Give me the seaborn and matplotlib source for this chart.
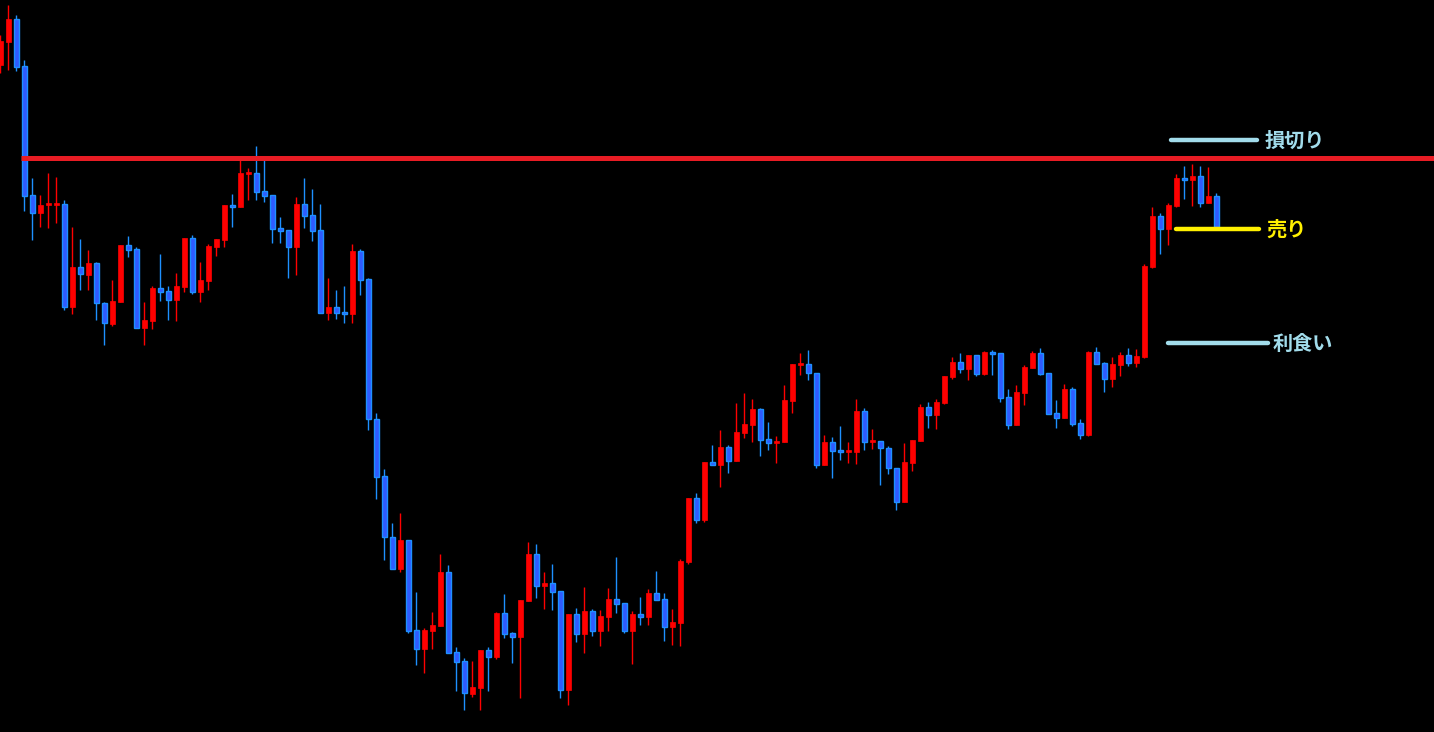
import numpy as np
import pandas as pd
import seaborn as sns
import matplotlib.pyplot as plt

sns.set_theme(style="dark")
plt.rcParams['font.family'] = ['Noto Sans CJK JP', 'DejaVu Sans']

# OHLC values (one candle per bar, oldest first)
opens = [667, 690, 713, 666, 537, 519, 527, 527, 528, 425, 465, 457, 469, 429, 408, 430, 487, 483, 404, 411,
         444, 441, 432, 445, 494, 440, 451, 485, 492, 527, 525, 558, 559, 541, 537, 504, 502, 485, 528, 517,
         502, 419, 425, 420, 418, 481, 453, 313, 256, 195, 163, 192, 102, 83, 101, 106, 160, 80, 71, 38,
         44, 82, 75, 119, 99, 95, 131, 178, 146, 149, 141, 42, 118, 98, 121, 101, 115, 133, 129, 101,
         118, 115, 139, 133, 105, 109, 170, 234, 212, 270, 267, 285, 271, 299, 307, 323, 293, 289, 290, 331,
         367, 368, 359, 267, 290, 282, 280, 280, 321, 290, 291, 284, 264, 230, 269, 291, 325, 317, 329, 355,
         370, 363, 377, 358, 380, 379, 335, 307, 339, 364, 379, 359, 319, 314, 343, 309, 297, 380, 369, 353,
         367, 377, 369, 375, 465, 516, 503, 526, 554, 552, 556, 529, 536]
highs = [697, 727, 717, 672, 554, 537, 559, 555, 532, 505, 493, 482, 470, 430, 452, 487, 496, 485, 430, 446,
         478, 446, 459, 494, 497, 470, 488, 493, 527, 538, 573, 564, 586, 574, 537, 515, 502, 535, 554, 543,
         528, 454, 442, 446, 488, 483, 454, 319, 263, 209, 219, 192, 140, 104, 120, 178, 167, 85, 74, 71,
         82, 85, 120, 138, 100, 132, 190, 188, 160, 168, 141, 118, 124, 145, 123, 122, 144, 175, 129, 121,
         135, 143, 161, 139, 123, 173, 234, 239, 270, 287, 302, 287, 329, 339, 333, 324, 310, 296, 347, 368,
         379, 382, 359, 297, 295, 306, 290, 333, 324, 303, 291, 286, 264, 289, 292, 328, 330, 333, 356, 375,
         379, 377, 377, 381, 382, 379, 343, 347, 367, 381, 384, 359, 332, 348, 345, 313, 381, 385, 370, 375,
         380, 384, 383, 468, 525, 519, 529, 558, 566, 568, 566, 565, 539]
lows = [659, 662, 661, 521, 492, 505, 504, 509, 422, 418, 442, 442, 412, 387, 406, 430, 475, 404, 387, 403,
        431, 412, 411, 440, 438, 430, 442, 476, 485, 505, 525, 532, 532, 530, 489, 489, 454, 457, 504, 491,
        419, 412, 413, 409, 409, 437, 302, 233, 172, 163, 160, 99, 67, 59, 83, 106, 79, 41, 22, 35,
        22, 41, 73, 94, 69, 34, 131, 134, 123, 122, 34, 27, 90, 79, 96, 86, 101, 119, 99, 68,
        107, 107, 132, 91, 87, 86, 168, 209, 210, 267, 245, 259, 271, 294, 290, 276, 282, 269, 290, 319,
        357, 352, 264, 267, 254, 272, 269, 268, 282, 283, 247, 258, 222, 230, 261, 291, 304, 303, 328, 353,
        359, 352, 356, 357, 357, 330, 303, 307, 327, 364, 357, 318, 304, 314, 306, 293, 296, 368, 340, 345,
        356, 366, 365, 374, 464, 478, 487, 525, 533, 526, 525, 529, 505]
closes = [691, 713, 665, 536, 519, 527, 528, 528, 425, 465, 458, 469, 429, 409, 431, 487, 482, 404, 412, 444,
          440, 432, 446, 494, 440, 452, 486, 493, 527, 525, 559, 560, 540, 536, 503, 501, 485, 528, 516, 501,
          419, 425, 419, 418, 481, 452, 313, 255, 195, 163, 192, 101, 83, 102, 107, 160, 79, 70, 39, 45,
          82, 75, 119, 98, 95, 132, 178, 146, 149, 140, 42, 118, 98, 121, 101, 116, 133, 128, 101, 118,
          115, 139, 132, 105, 110, 171, 234, 212, 270, 267, 285, 271, 300, 308, 323, 292, 289, 291, 332, 368,
          369, 359, 267, 290, 281, 280, 282, 321, 290, 292, 284, 264, 230, 270, 292, 325, 317, 330, 356, 370,
          363, 377, 358, 380, 378, 334, 307, 340, 365, 379, 358, 318, 314, 343, 308, 297, 380, 368, 353, 368,
          377, 369, 376, 466, 516, 503, 527, 554, 552, 556, 529, 536, 505]

# horizontal levels
resistance = 574.5
level_names = ["損切り", "売り", "利食い"]
level_values = [592, 503, 389]

df = pd.DataFrame({"open": opens, "high": highs, "low": lows, "close": closes})
df["idx"] = np.arange(len(df))
df["up"] = df["close"] >= df["open"]

RED = "#FF0000"
BLUE_FILL = "#2F5BFF"
BLUE_EDGE = "#1E90FF"
LIGHT = "#A2DCEB"
YELLOW = "#FFF000"

fig = plt.figure(figsize=(14.34, 7.32), dpi=100, facecolor="black")
ax = fig.add_axes([0, 0, 1, 1])
ax.set_facecolor("black")

up = df[df["up"]]
dn = df[~df["up"]]

ax.vlines(up["idx"], up["low"], up["high"], color=RED, lw=1.0, zorder=2)
ax.vlines(dn["idx"], dn["low"], dn["high"], color=BLUE_EDGE, lw=1.0, zorder=2)

w = 0.62
h_up = np.maximum(up["close"] - up["open"], 2)
ax.bar(up["idx"], h_up, bottom=np.minimum(up["open"], up["close"]), width=w,
       color=RED, edgecolor=RED, lw=0.5, zorder=3)
h_dn = np.maximum(dn["open"] - dn["close"], 2)
ax.bar(dn["idx"], h_dn, bottom=dn["close"], width=w,
       color=BLUE_FILL, edgecolor=BLUE_EDGE, lw=1.0, zorder=3)

x0, x1 = -0.0375, 179.2125
ax.hlines(resistance, 2.6, x1, color="#E81C24", lw=3.6, zorder=4)

line_spans = [(146.3, 157.1), (147.0, 157.3), (146.0, 158.5)]
text_x = [158.0, 158.2, 159.0]
colors = [LIGHT, YELLOW, LIGHT]
for name, val, (a, b), tx, c in zip(level_names, level_values, line_spans, text_x, colors):
    ax.hlines(val, a, b, color=c, lw=3.2, zorder=5, capstyle="round")
    ax.text(tx, val, name, color=c, fontsize=14.5, fontweight="bold",
            va="center", ha="left", family=['Noto Sans CJK JP', 'DejaVu Sans'])

ax.set_xlim(x0, x1)
ax.set_ylim(0, 732)
ax.axis("off")

fig.savefig("out.png", dpi=100, facecolor="black")
